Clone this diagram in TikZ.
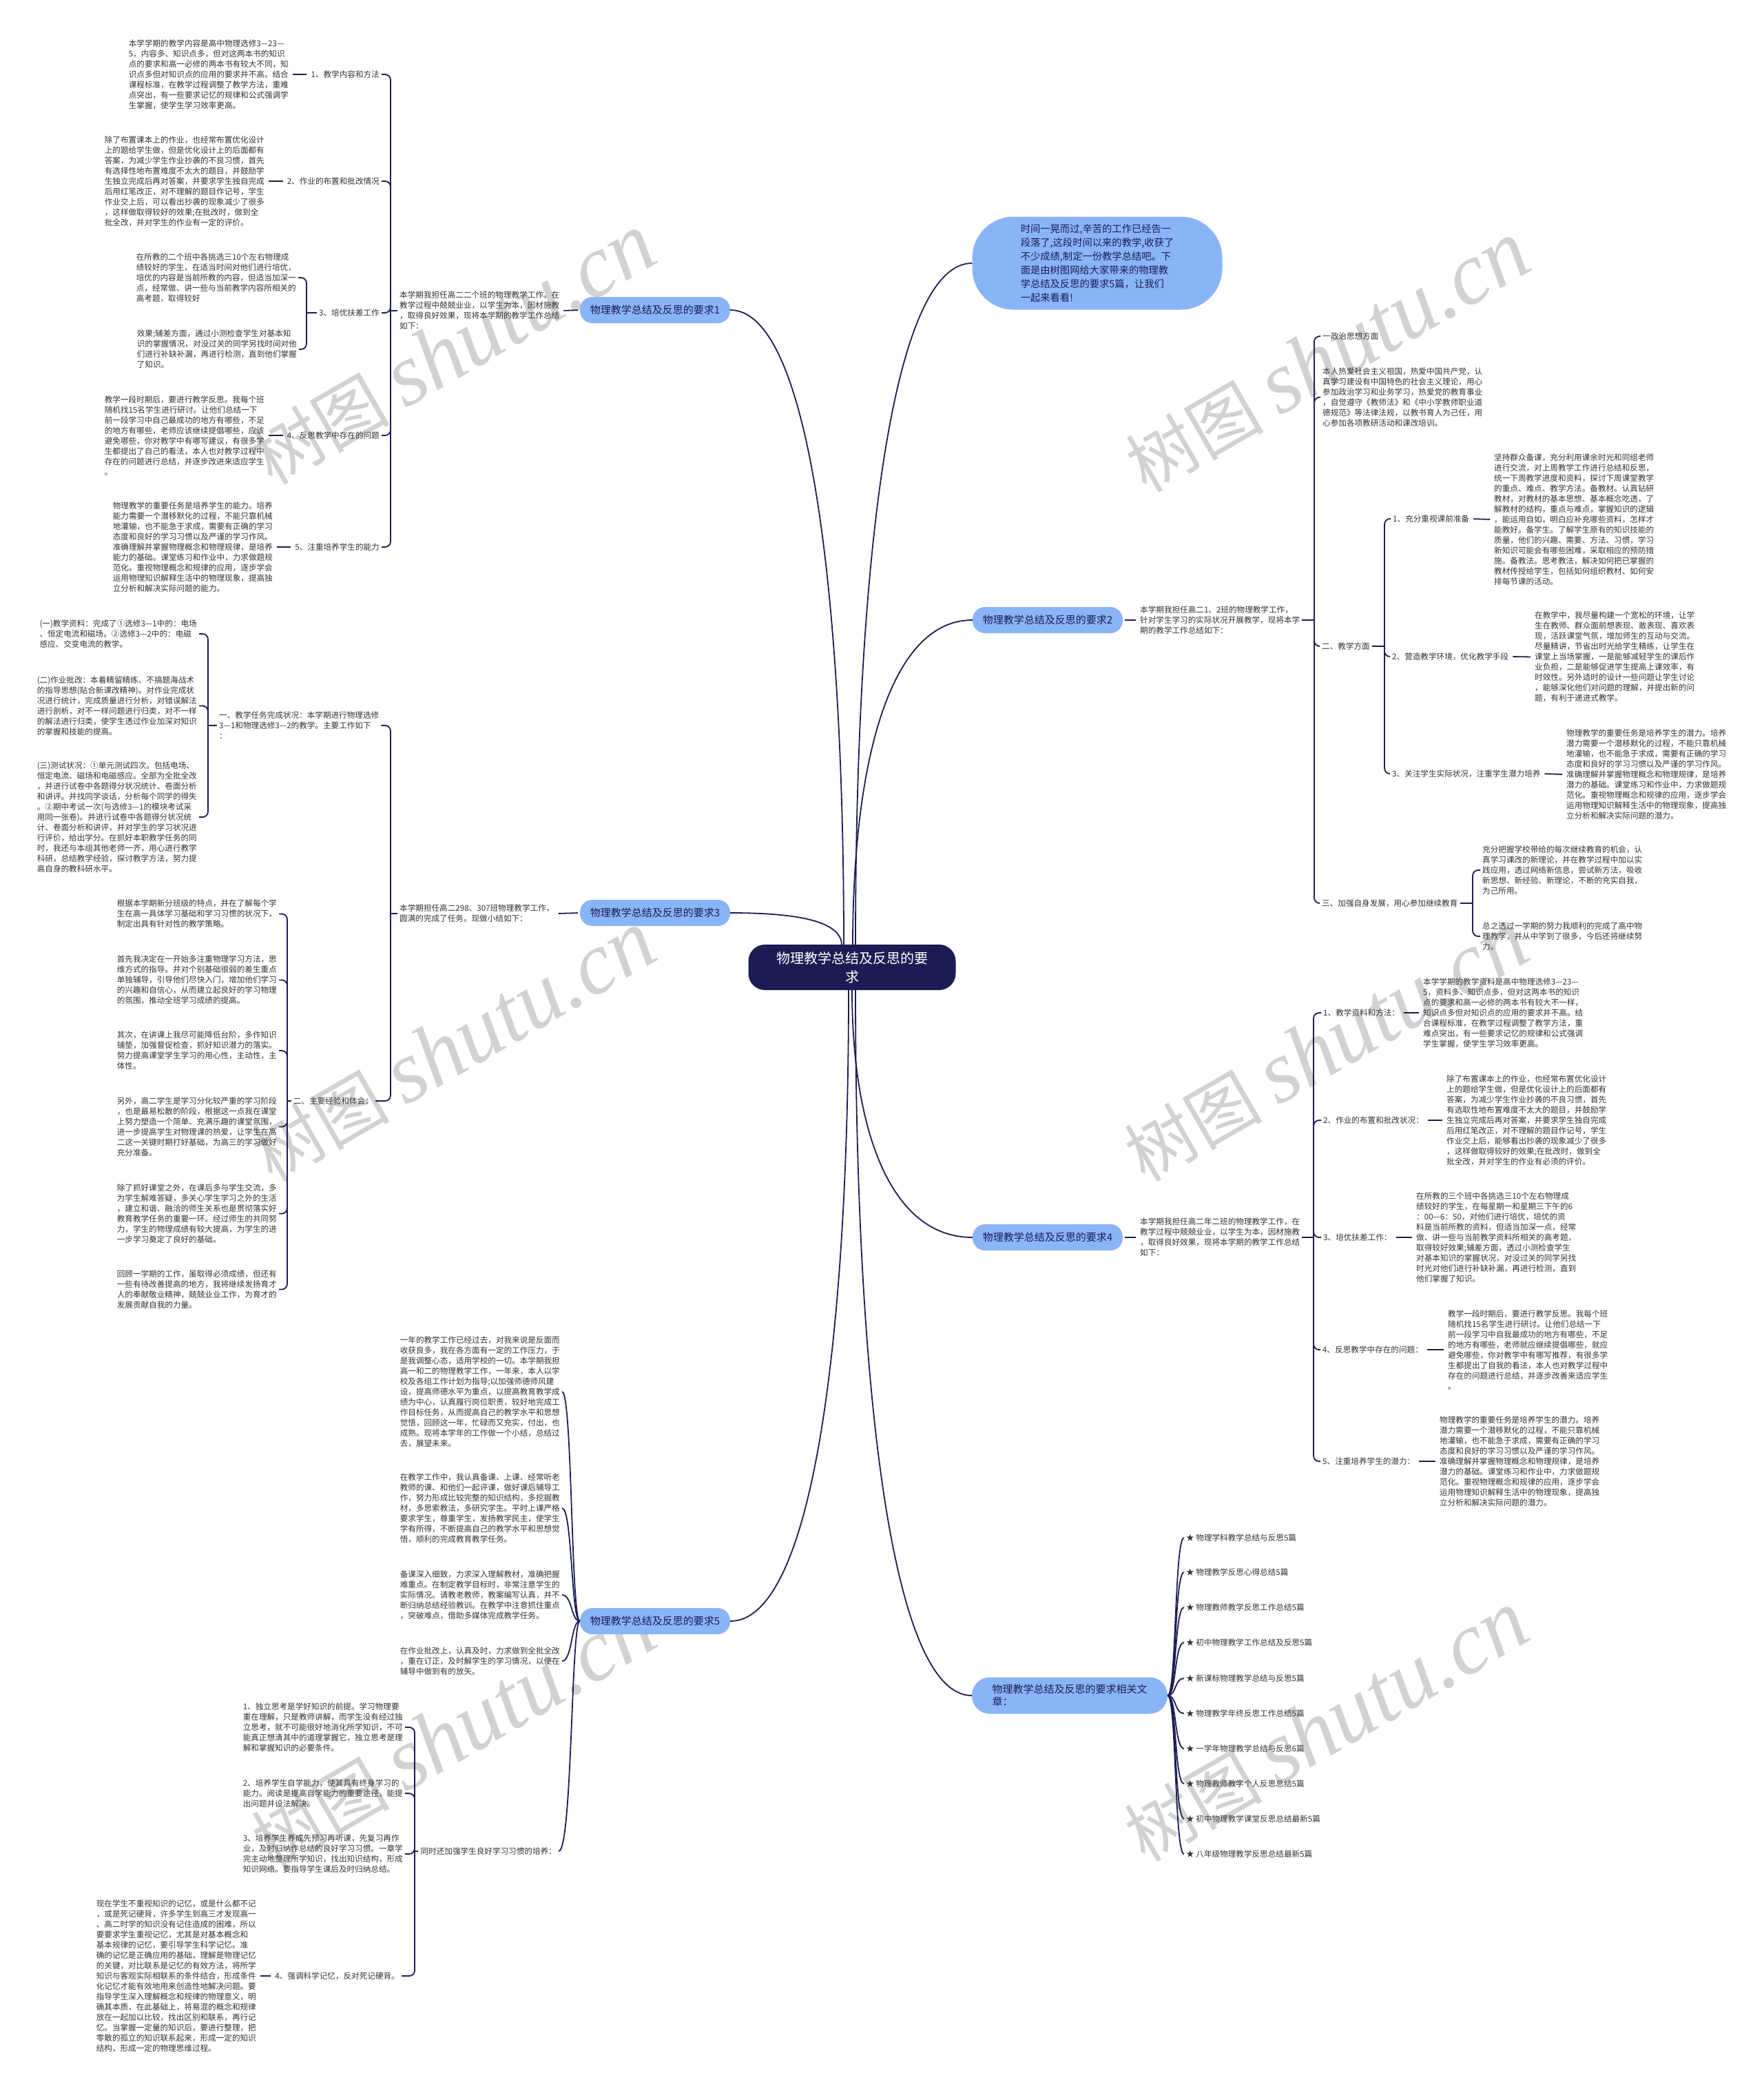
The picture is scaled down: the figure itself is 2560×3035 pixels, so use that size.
\documentclass[tikz,border=0pt]{standalone}
\usepackage{fontspec}
\setmainfont{Noto Sans CJK SC}
\newfontfamily\wmlat{Liberation Serif}
\definecolor{navy}{HTML}{1C1C54}
\definecolor{lblue}{HTML}{8AB4F8}
\definecolor{txtc}{HTML}{333333}
\definecolor{wmc}{HTML}{D2D2D2}
\tikzset{
  conn/.style={draw=navy, line width=1.8pt},
  spine/.style={conn, rounded corners=8pt},
  link/.style={conn, shorten <=3pt, shorten >=3pt},
  txt/.style={inner sep=3pt, align=left, text=txtc, font=\fontsize{11.6}{15}\selectfont},
  branch/.style={fill=lblue, rounded corners=18pt, minimum width=218pt, minimum height=38pt, text=navy, font=\fontsize{15}{18}\selectfont, inner sep=4pt, align=left},
  wmark/.style={text=wmc, rotate=30, inner sep=0pt},
}
\newcommand{\wmtext}{{\fontsize{100}{100}\selectfont 树图 }{\wmlat\itshape\fontsize{128}{128}\selectfont shutu.cn}}
\begin{document}
\begin{tikzpicture}[x=1pt,y=-1pt]
\fill[white] (0,0) rectangle (2560,3035);
\useasboundingbox (0,0) rectangle (2560,3035);
% watermarks
\node[wmark] (w1) at (658,507) {\wmtext};
\node[wmark] (w2) at (1927,518) {\wmtext};
\node[wmark] (w3) at (658,1519) {\wmtext};
\node[wmark] (w4) at (1925,1519) {\wmtext};
\node[wmark] (w5) at (658,2516) {\wmtext};
\node[wmark] (w6) at (1925,2506) {\wmtext};

% center and main branches
\node[fill=navy, rounded corners=24pt, minimum width=301pt, minimum height=66pt, align=center, text=white, font=\fontsize{20}{27}\selectfont] (center) at (1237,1404) {物理教学总结及反思的要\\求};
\node[fill=lblue, rounded corners=60pt, minimum width=363pt, minimum height=135pt, align=left, text=navy, font=\fontsize{14.3}{20}\selectfont] (intro) at (1593,382) {时间一晃而过,辛苦的工作已经告一\\段落了,这段时间以来的教学,收获了\\不少成绩,制定一份教学总结吧。下\\面是由树图网给大家带来的物理教\\学总结及反思的要求5篇，让我们\\一起来看看!};
\node[branch] (b1) at (951,450) {物理教学总结及反思的要求1};
\node[branch] (b2) at (1521,900) {物理教学总结及反思的要求2};
\node[branch] (b3) at (951,1325) {物理教学总结及反思的要求3};
\node[branch] (b4) at (1521,1796) {物理教学总结及反思的要求4};
\node[branch] (b5) at (951,2353) {物理教学总结及反思的要求5};
\node[branch, minimum width=284pt, minimum height=53pt, rounded corners=26pt] (b6) at (1553,2461) {物理教学总结及反思的要求相关文\\章：};

\draw[conn] (1225,1372) .. controls (1225,865) and (1175,450) .. (b1.east);
\draw[conn] (1242,1372) .. controls (1242,826) and (1293,382) .. (intro.west);
\draw[conn] (1238,1372) .. controls (1238,1112) and (1290,900) .. (b2.west);
\draw[conn] (b3.east) .. controls (1150,1325) and (1222,1335) .. (1222,1372);
\draw[conn] (1237,1437) .. controls (1237,1634) and (1290,1796) .. (b4.west);
\draw[conn] (1232,1437) .. controls (1232,1941) and (1180,2353) .. (b5.east);
\draw[conn] (1242,1437) .. controls (1242,2000) and (1292,2461) .. (b6.west);

% ================= Branch 1 =================
\node[txt, anchor=west] (h1) at (577,451) {本学期我担任高二二个班的物理教学工作。在\\教学过程中兢兢业业，以学生为本，因材施教\\，取得良好效果，现将本学期的教学工作总结\\如下：};
\draw[link] (h1.east) -- (b1.west);
\node[txt, anchor=east] (l11) at (554,108) {1、教学内容和方法};
\node[txt, anchor=east] (t11) at (422,108) {本学学期的教学内容是高中物理选修3—23—\\5，内容多、知识点多，但对这两本书的知识\\点的要求和高一必修的两本书有较大不同，知\\识点多但对知识点的应用的要求并不高。结合\\课程标准，在教学过程调整了教学方法，重难\\点突出，有一些要求记忆的规律和公式强调学\\生掌握，使学生学习效率更高。};
\node[txt, anchor=east] (l12) at (554,263) {2、作业的布置和批改情况};
\node[txt, anchor=east] (t12) at (387,263) {除了布置课本上的作业，也经常布置优化设计\\上的题给学生做，但是优化设计上的后面都有\\答案，为减少学生作业抄袭的不良习惯，首先\\有选择性地布置难度不太大的题目，并鼓励学\\生独立完成后再对答案，并要求学生独自完成\\后用红笔改正，对不理解的题目作记号，学生\\作业交上后，可以看出抄袭的现象减少了很多\\，这样做取得较好的效果;在批改时，做到全\\批全改，并对学生的作业有一定的评价。};
\node[txt, anchor=east] (l13) at (554,454) {3、培优扶差工作};
\node[txt, anchor=east] (t13a) at (433,403) {在所教的二个班中各挑选三10个左右物理成\\绩较好的学生，在适当时间对他们进行培优，\\培优的内容是当前所教的内容，但适当加深一\\点，经常做、讲一些与当前教学内容所相关的\\高考题，取得较好};
\node[txt, anchor=east] (t13b) at (434,507) {效果;辅差方面，通过小测检查学生对基本知\\识的掌握情况，对没过关的同学另找时间对他\\们进行补缺补漏，再进行检测，直到他们掌握\\了知识。};
\node[txt, anchor=east] (l14) at (554,632) {4、反思教学中存在的问题};
\node[txt, anchor=east] (t14) at (387,632) {教学一段时期后，要进行教学反思。我每个班\\随机找15名学生进行研讨。让他们总结一下\\前一段学习中自己最成功的地方有哪些，不足\\的地方有哪些，老师应该继续提倡哪些，应该\\避免哪些，你对教学中有哪写建议，有很多学\\生都提出了自己的看法，本人也对教学过程中\\存在的问题进行总结，并逐步改进来适应学生\\。};
\node[txt, anchor=east] (l15) at (554,794) {5、注重培养学生的能力};
\node[txt, anchor=east] (t15) at (399,794) {物理教学的重要任务是培养学生的能力。培养\\能力需要一个潜移默化的过程，不能只靠机械\\地灌输，也不能急于求成，需要有正确的学习\\态度和良好的学习习惯以及严谨的学习作风。\\准确理解并掌握物理概念和物理规律，是培养\\能力的基础。课堂练习和作业中，力求做题规\\范化。重视物理概念和规律的应用，逐步学会\\运用物理知识解释生活中的物理现象，提高独\\立分析和解决实际问题的能力。};
\draw[conn] (h1.west) -- (567,451);
\foreach \n in {l11,l12,l13,l14,l15} {\draw[spine] (567,451) |- (\n.east);}
\draw[link] (t11.east) -- (l11.west);
\draw[link] (t12.east) -- (l12.west);
\draw[link] (t14.east) -- (l14.west);
\draw[link] (t15.east) -- (l15.west);
\draw[conn] (l13.west) -- (445,454);
\draw[spine] (445,454) |- (t13a.east);
\draw[spine] (445,454) |- (t13b.east);

% ================= Branch 3 =================
\node[txt, anchor=west] (h3) at (577,1326) {本学期担任高二298、307班物理教学工作，\\圆满的完成了任务。现做小结如下：};
\draw[link] (h3.east) -- (b3.west);
\node[txt, anchor=west] (l31) at (315,1053) {一、教学任务完成状况：本学期进行物理选修\\3—1和物理选修3—2的教学。主要工作如下\\：};
\node[txt, anchor=east] (t31a) at (289,920) {(一)教学资料：完成了①选修3—1中的：电场\\、恒定电流和磁场。②选修3—2中的：电磁\\感应、交变电流的教学。};
\node[txt, anchor=east] (t31b) at (289,1024.5) {(二)作业批改：本着精留精练、不搞题海战术\\的指导思想(贴合新课改精神)。对作业完成状\\况进行统计，完成质量进行分析，对错误解法\\进行剖析，对不一样问题进行归类，对不一样\\的解法进行归类，使学生透过作业加深对知识\\的掌握和技能的提高。};
\node[txt, anchor=east] (t31c) at (289,1186) {(三)测试状况：①单元测试四次。包括电场、\\恒定电流、磁场和电磁感应。全部为全批全改\\，并进行试卷中各题得分状况统计、卷面分析\\和讲评。并找同学谈话，分析每个同学的得失\\。②期中考试一次(与选修3—1的模块考试采\\用同一张卷)。并进行试卷中各题得分状况统\\计、卷面分析和讲评，并对学生的学习状况进\\行评价，给出学分。在抓好本职教学任务的同\\时，我还与本组其他老师一齐，用心进行教学\\科研，总结教学经验，探讨教学方法，努力提\\高自身的教科研水平。};
\node[txt, anchor=east] (l32) at (545,1598) {二、主要经验和体会：};
\node[txt, anchor=east] (t32a) at (405,1326.5) {根据本学期新分班级的特点，并在了解每个学\\生在高一具体学习基础和学习习惯的状况下，\\制定出具有针对性的教学策略。};
\node[txt, anchor=east] (t32b) at (405,1422.5) {首先我决定在一开始多注重物理学习方法，思\\维方式的指导。并对个别基础很弱的差生重点\\单独辅导，引导他们尽快入门，增加他们学习\\的兴趣和自信心，从而建立起良好的学习物理\\的氛围，推动全班学习成绩的提高。};
\node[txt, anchor=east] (t32c) at (405,1525) {其次，在讲课上我尽可能降低台阶，多作知识\\铺垫，加强督促检查，抓好知识潜力的落实。\\努力提高课堂学生学习的用心性，主动性，主\\体性。};
\node[txt, anchor=east] (t32d) at (405,1635.5) {另外，高二学生是学习分化较严重的学习阶段\\，也是最易松散的阶段，根据这一点我在课堂\\上努力塑造一个简单、充满乐趣的课堂氛围，\\进一步提高学生对物理课的热爱，让学生在高\\二这一关键时期打好基础，为高三的学习做好\\充分准备。};
\node[txt, anchor=east] (t32e) at (405,1761.5) {除了抓好课堂之外，在课后多与学生交流，多\\为学生解难答疑，多关心学生学习之外的生活\\，建立和谐、融洽的师生关系也是贯彻落实好\\教育教学任务的重要一环。经过师生的共同努\\力，学生的物理成绩有较大提高，为学生的进\\一步学习奠定了良好的基础。};
\node[txt, anchor=east] (t32f) at (405,1871.5) {回顾一学期的工作，虽取得必须成绩，但还有\\一些有待改善提高的地方，我将继续发扬育才\\人的奉献敬业精神，兢兢业业工作，为育才的\\发展贡献自我的力量。};
\draw[conn] (h3.west) -- (567,1326);
\draw[spine] (567,1326) |- (l31.east);
\draw[spine] (567,1326) |- (l32.east);
\draw[conn] (l31.west) -- (302,1053);
\foreach \n in {t31a,t31b,t31c} {\draw[spine] (302,1053) |- (\n.east);}
\draw[conn] (l32.west) -- (417,1598);
\foreach \n in {t32a,t32b,t32c,t32d,t32e,t32f} {\draw[spine] (417,1598) |- (\n.east);}

% ================= Branch 5 =================
\node[txt, anchor=east] (t5a) at (816,2020) {一年的教学工作已经过去，对我来说是反面而\\收获良多，我在各方面有一定的工作压力，于\\是我调整心态，适用学校的一切。本学期我担\\高一和二的物理教学工作，一年来，本人以学\\校及各组工作计划为指导;以加强师德师风建\\设，提高师德水平为重点，以提高教育教学成\\绩为中心，认真履行岗位职责，较好地完成工\\作目标任务，从而提高自己的教学水平和思想\\觉悟，回顾这一年，忙碌而又充实，付出，也\\成熟。现将本学年的工作做一个小结，总结过\\去，展望未来。};
\node[txt, anchor=east] (t5b) at (816,2189) {在教学工作中，我认真备课、上课、经常听老\\教师的课、和他们一起评课，做好课后辅导工\\作，努力形成比较完整的知识结构，多挖掘教\\材，多思索教法，多研究学生。平时上课严格\\要求学生，尊重学生，发扬教学民主，使学生\\学有所得，不断提高自己的教学水平和思想觉\\悟，顺利的完成教育教学任务。};
\node[txt, anchor=east] (t5c) at (816,2315) {备课深入细致，力求深入理解教材，准确把握\\难重点。在制定教学目标时，非常注意学生的\\实际情况。请教老教师，教案编写认真，并不\\断归纳总结经验教训。在教学中注意抓住重点\\，突破难点，借助多媒体完成教学任务。};
\node[txt, anchor=east] (t5d) at (816,2411) {在作业批改上，认真及时，力求做到全批全改\\，重在订正，及时解学生的学习情况，以便在\\辅导中做到有的放矢。};
\node[txt, anchor=east] (l5e) at (811,2687) {同时还加强学生良好学习习惯的培养：};
\foreach \n/\yy in {t5a/2020,t5b/2189,t5c/2315,t5d/2411,l5e/2687} {\draw[conn] (b5.west) .. controls (829,2353) and (831,\yy) .. (\n.east);}
\node[txt, anchor=east] (t5e1) at (588,2507) {1、独立思考是学好知识的前提。学习物理要\\重在理解，只是教师讲解，而学生没有经过独\\立思考，就不可能很好地消化所学知识，不可\\能真正想清其中的道理掌握它，独立思考是理\\解和掌握知识的必要条件。};
\node[txt, anchor=east] (t5e2) at (588,2603) {2、培养学生自学能力，使其具有终身学习的\\能力。阅读是提高自学能力的重要途径，能提\\出问题并设法解决。};
\node[txt, anchor=east] (t5e3) at (588,2691) {3、培养学生养成先预习再听课，先复习再作\\业，及时归纳作总结的良好学习习惯。一章学\\完主动地整理所学知识，找出知识结构，形成\\知识网络。要指导学生课后及时归纳总结。};
\node[txt, anchor=east] (l5e4) at (583,2868) {4、强调科学记忆，反对死记硬背。};
\node[txt, anchor=east] (t5e4) at (375,2868) {现在学生不重视知识的记忆，或是什么都不记\\，或是死记硬背，许多学生到高三才发现高一\\、高二时学的知识没有记住造成的困难，所以\\要要求学生重视记忆，尤其是对基本概念和\\基本规律的记忆，要引导学生科学记忆。准\\确的记忆是正确应用的基础，理解是物理记忆\\的关键，对比联系是记忆的有效方法，将所学\\知识与客观实际相联系的条件结合，形成条件\\化记忆才能有效地用来创造性地解决问题。要\\指导学生深入理解概念和规律的物理意义，明\\确其本质，在此基础上，将易混的概念和规律\\放在一起加以比较，找出区别和联系，再行记\\忆。当掌握一定量的知识后，要进行整理，把\\零散的孤立的知识联系起来，形成一定的知识\\结构，形成一定的物理思维过程。};
\draw[conn] (l5e.west) -- (602,2687);
\foreach \n in {t5e1,t5e2,t5e3,l5e4} {\draw[spine] (602,2687) |- (\n.east);}
\draw[link] (t5e4.east) -- (l5e4.west);

% ================= Branch 2 =================
\node[txt, anchor=west] (h2) at (1652,900) {本学期我担任高二1、2班的物理教学工作，\\针对学生学习的实际状况开展教学，现将本学\\期的教学工作总结如下：};
\draw[link] (b2.east) -- (h2.west);
\node[txt, anchor=west] (l2a) at (1917,488) {一政治思想方面};
\node[txt, anchor=west] (t2b) at (1917,576.5) {本人热爱社会主义祖国，热爱中国共产党，认\\真学习建设有中国特色的社会主义理论，用心\\参加政治学习和业务学习，热爱党的教育事业\\，自觉遵守《教师法》和《中小学教师职业道\\德规范》等法律法规，以教书育人为己任，用\\心参加各项教研活动和课改培训。};
\node[txt, anchor=west] (l2c) at (1916,938) {二、教学方面};
\node[txt, anchor=west] (l2d) at (1916,1311) {三、加强自身发展，用心参加继续教育};
\draw[conn] (h2.east) -- (1908,900);
\foreach \n in {l2a,t2b,l2c,l2d} {\draw[spine] (1908,900) |- (\n.west);}
\node[txt, anchor=west] (l2c1) at (2019,753) {1、充分重视课前准备};
\node[txt, anchor=west] (t2c1) at (2166,754) {坚持群众备课，充分利用课余时光和同组老师\\进行交流，对上周教学工作进行总结和反思，\\统一下周教学进度和资料，探讨下周课堂教学\\的重点、难点、教学方法。备教材。认真钻研\\教材，对教材的基本思想、基本概念吃透，了\\解教材的结构，重点与难点，掌握知识的逻辑\\，能运用自如，明白应补充哪些资料，怎样才\\能教好。备学生。了解学生原有的知识技能的\\质量，他们的兴趣、需要、方法、习惯，学习\\新知识可能会有哪些困难，采取相应的预防措\\施。备教法。思考教法，解决如何把已掌握的\\教材传授给学生，包括如何组织教材、如何安\\排每节课的活动。};
\node[txt, anchor=west] (l2c2) at (2018,953) {2、营造教学环境，优化教学手段};
\node[txt, anchor=west] (t2c2) at (2225,953.5) {在教学中，我尽量构建一个宽松的环境，让学\\生在教师、群众面前想表现、敢表现、喜欢表\\现，活跃课堂气氛，增加师生的互动与交流。\\尽量精讲，节省出时光给学生精练，让学生在\\课堂上当场掌握，一是能够减轻学生的课后作\\业负担，二是能够促进学生提高上课效率，有\\时效性。另外适时的设计一些问题让学生讨论\\，能够深化他们对问题的理解，并提出新的问\\题，有利于递进式教学。};
\node[txt, anchor=west] (l2c3) at (2018,1123) {3、关注学生实际状况，注重学生潜力培养};
\node[txt, anchor=west] (t2c3) at (2271,1124) {物理教学的重要任务是培养学生的潜力。培养\\潜力需要一个潜移默化的过程，不能只靠机械\\地灌输，也不能急于求成，需要有正确的学习\\态度和良好的学习习惯以及严谨的学习作风。\\准确理解并掌握物理概念和物理规律，是培养\\潜力的基础。课堂练习和作业中，力求做题规\\范化。重视物理概念和规律的应用，逐步学会\\运用物理知识解释生活中的物理现象，提高独\\立分析和解决实际问题的潜力。};
\draw[conn] (l2c.east) -- (2010,938);
\foreach \n in {l2c1,l2c2,l2c3} {\draw[spine] (2010,938) |- (\n.west);}
\draw[link] (l2c1.east) -- (t2c1.west);
\draw[link] (l2c2.east) -- (t2c2.west);
\draw[link] (l2c3.east) -- (t2c3.west);
\node[txt, anchor=west] (t2d1) at (2149,1263) {充分把握学校带给的每次继续教育的机会，认\\真学习课改的新理论，并在教学过程中加以实\\践应用，透过网络新信息，尝试新方法，吸收\\新思想、新经验、新理论，不断的充实自我，\\为己所用。};
\node[txt, anchor=west] (t2d2) at (2149,1359) {总之透过一学期的努力我顺利的完成了高中物\\理教学，并从中学到了很多，今后还将继续努\\力。};
\draw[conn] (l2d.east) -- (2138,1311);
\foreach \n in {t2d1,t2d2} {\draw[spine] (2138,1311) |- (\n.west);}

% ================= Branch 4 =================
\node[txt, anchor=west] (h4) at (1652,1796) {本学期我担任高二年二班的物理教学工作，在\\教学过程中兢兢业业，以学生为本，因材施教\\，取得良好效果，现将本学期的教学工作总结\\如下：};
\draw[link] (b4.east) -- (h4.west);
\node[txt, anchor=west] (l41) at (1918,1470) {1、教学资料和方法：};
\node[txt, anchor=west] (t41) at (2063,1470) {本学学期的教学资料是高中物理选修3—23—\\5，资料多、知识点多，但对这两本书的知识\\点的要求和高一必修的两本书有较大不一样，\\知识点多但对知识点的应用的要求并不高。结\\合课程标准，在教学过程调整了教学方法，重\\难点突出，有一些要求记忆的规律和公式强调\\学生掌握，使学生学习效率更高。};
\node[txt, anchor=west] (l42) at (1918,1626) {2、作业的布置和批改状况：};
\node[txt, anchor=west] (t42) at (2097,1626) {除了布置课本上的作业，也经常布置优化设计\\上的题给学生做，但是优化设计上的后面都有\\答案，为减少学生作业抄袭的不良习惯，首先\\有选取性地布置难度不太大的题目，并鼓励学\\生独立完成后再对答案，并要求学生独自完成\\后用红笔改正，对不理解的题目作记号，学生\\作业交上后，能够看出抄袭的现象减少了很多\\，这样做取得较好的效果;在批改时，做到全\\批全改，并对学生的作业有必须的评价。};
\node[txt, anchor=west] (l43) at (1918,1796) {3、培优扶差工作：};
\node[txt, anchor=west] (t43) at (2053,1796) {在所教的三个班中各挑选三10个左右物理成\\绩较好的学生，在每星期一和星期三下午的6\\：00—6：50，对他们进行培优，培优的资\\料是当前所教的资料，但适当加深一点，经常\\做、讲一些与当前教学资料所相关的高考题，\\取得较好效果;辅差方面，透过小测检查学生\\对基本知识的掌握状况，对没过关的同学另找\\时光对他们进行补缺补漏，再进行检测，直到\\他们掌握了知识。};
\node[txt, anchor=west] (l44) at (1917,1959) {4、反思教学中存在的问题：};
\node[txt, anchor=west] (t44) at (2099,1959) {教学一段时期后，要进行教学反思。我每个班\\随机找15名学生进行研讨。让他们总结一下\\前一段学习中自我最成功的地方有哪些，不足\\的地方有哪些，老师就应继续提倡哪些，就应\\避免哪些，你对教学中有哪写推荐，有很多学\\生都提出了自我的看法，本人也对教学过程中\\存在的问题进行总结，并逐步改善来适应学生\\。};
\node[txt, anchor=west] (l45) at (1917,2121) {5、注重培养学生的潜力：};
\node[txt, anchor=west] (t45) at (2087,2121) {物理教学的重要任务是培养学生的潜力。培养\\潜力需要一个潜移默化的过程，不能只靠机械\\地灌输，也不能急于求成，需要有正确的学习\\态度和良好的学习习惯以及严谨的学习作风。\\准确理解并掌握物理概念和物理规律，是培养\\潜力的基础。课堂练习和作业中，力求做题规\\范化。重视物理概念和规律的应用，逐步学会\\运用物理知识解释生活中的物理现象，提高独\\立分析和解决实际问题的潜力。};
\draw[conn] (h4.east) -- (1907,1796);
\foreach \n in {l41,l42,l43,l44,l45} {\draw[spine] (1907,1796) |- (\n.west);}
\draw[link] (l41.east) -- (t41.west);
\draw[link] (l42.east) -- (t42.west);
\draw[link] (l43.east) -- (t43.west);
\draw[link] (l44.east) -- (t44.west);
\draw[link] (l45.east) -- (t45.west);

% ================= Branch 6 =================
\foreach \i/\yy/\tt in {1/2232/物理学科教学总结与反思5篇, 2/2282/物理教学反思心得总结5篇, 3/2333/物理教师教学反思工作总结5篇, 4/2384/初中物理教学工作总结及反思5篇, 5/2436/新课标物理教学总结与反思5篇, 6/2487/物理教学年终反思工作总结5篇, 7/2538/一学年物理教学总结与反思6篇, 8/2589/物理教师教学个人反思总结5篇, 9/2640/初中物理教学课堂反思总结最新5篇, 10/2691/八年级物理教学反思总结最新5篇} {
  \node[txt, anchor=west] (r\i) at (1719,\yy) {★ \tt};
  \draw[conn] (b6.east) .. controls (1708,2461) and (1705,\yy) .. (r\i.west);
}
\end{tikzpicture}
\end{document}
